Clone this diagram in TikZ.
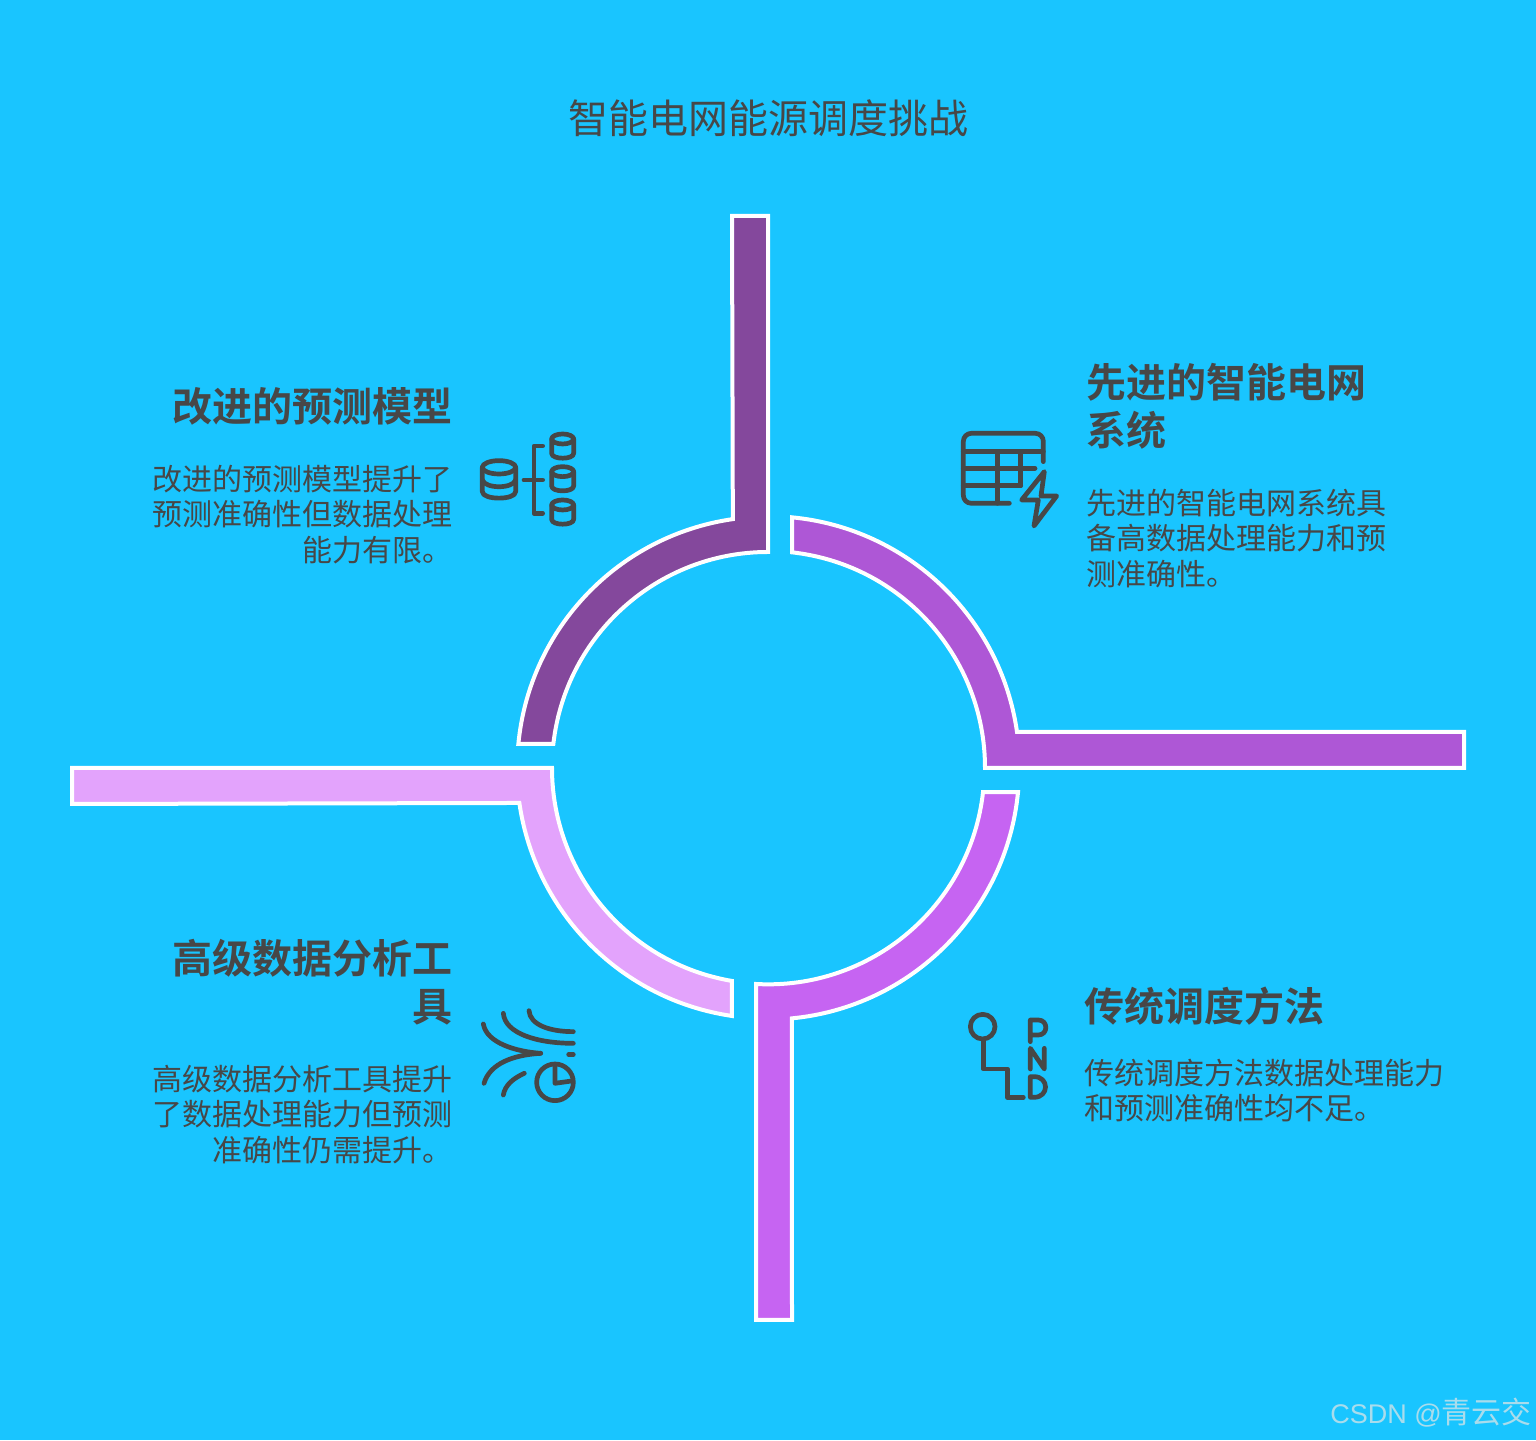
\documentclass[tikz,border=0pt]{standalone}
\usepackage{fontspec}
\setmainfont{Noto Sans CJK SC}[BoldFont={Noto Sans CJK SC Bold}]
\newfontfamily\latinwm{Liberation Sans}
\definecolor{bgblue}{HTML}{19C5FF}
\definecolor{inkgray}{HTML}{474747}
\definecolor{segA}{HTML}{84489C}
\definecolor{segB}{HTML}{AE57D6}
\definecolor{segC}{HTML}{C664F2}
\definecolor{segD}{HTML}{E3A3FC}
\definecolor{wmgray}{HTML}{A9DCEC}
\newcommand{\cylinder}[5]{% cx, cy top-centre, rx, ry, height
  \draw[iconline] (#1,#2) ellipse[x radius=#3,y radius=#4];
  \draw[iconline] (#1-#3,#2) -- (#1-#3,#2+#5) .. controls (#1-#3,#2+#5+#4*1.3) and (#1+#3,#2+#5+#4*1.3) .. (#1+#3,#2+#5) -- (#1+#3,#2);
}
\tikzset{
  seg/.style={draw=white,line width=4pt,line join=miter},
  title/.style={text=inkgray,font=\fontsize{40}{48}\selectfont,inner sep=0pt},
  headl/.style={text=inkgray,font=\fontsize{40}{48}\selectfont\bfseries,inner sep=0pt,align=left,anchor=west},
  headr/.style={text=inkgray,font=\fontsize{40}{48}\selectfont\bfseries,inner sep=0pt,align=right,anchor=east},
  bodyl/.style={text=inkgray,font=\fontsize{30}{35.7}\selectfont,inner sep=0pt,align=left,anchor=west},
  bodyr/.style={text=inkgray,font=\fontsize{30}{35.7}\selectfont,inner sep=0pt,align=right,anchor=east},
  iconline/.style={draw=inkgray,line width=4.7pt,line cap=round,line join=round},
  iconbox/.style={x=0.3333pt,y=-0.3333pt},
}
\begin{document}
\begin{tikzpicture}[x=1pt,y=1pt]
\useasboundingbox (0,0) rectangle (1536,1440);
\fill[bgblue] (0,0) rectangle (1536,1440);
\coordinate (ctr) at (768,672);

% top-left segment
\draw[seg,fill=segA] (732,1224) -- (768,1224) -- (768,888)
  arc[start angle=90,end angle=173.6,radius=216pt] -- ++(-35,0)
  arc[start angle=174.5,end angle=98.2,radius=251.5pt] -- cycle;
% right segment
\draw[seg,fill=segB] (1464,708) -- (1464,672) -- (985,672)
  arc[start angle=0,end angle=83.6,radius=217pt] -- ++(0,35)
  arc[start angle=84.5,end angle=8.2,radius=251.5pt] -- cycle;
% bottom segment
\draw[seg,fill=segC] (792,120) -- (756,120) -- (756,456)
  arc[start angle=-93.2,end angle=-6.4,radius=216.3pt] -- ++(35,0)
  arc[start angle=-5.5,end angle=-84.5,radius=251.5pt] -- cycle;
% left segment
\draw[seg,fill=segD] (72,636) -- (72,672) -- (552,672)
  arc[start angle=180,end angle=260.4,radius=216pt] -- ++(0,-35)
  arc[start angle=261.7,end angle=188.2,radius=251.5pt] -- cycle;

\node[title] (ttl) at (768.5,1322) {智能电网能源调度挑战};

\node[headr] (h1) at (453,1034) {改进的预测模型};
\node[bodyr] (b1) at (453,925.5) {改进的预测模型提升了\\预测准确性但数据处理\\能力有限。};
\node[headl] (h2) at (1086,1034) {先进的智能电网\\系统};
\node[bodyl] (b2) at (1086,901.5) {先进的智能电网系统具\\备高数据处理能力和预\\测准确性。};
\node[headr] (h3) at (453,458) {高级数据分析工\\具};
\node[bodyr] (b3) at (453,325.5) {高级数据分析工具提升\\了数据处理能力但预测\\准确性仍需提升。};
\node[headl] (h4) at (1084,434) {传统调度方法};
\node[bodyl] (b4) at (1084,349.5) {传统调度方法数据处理能力\\和预测准确性均不足。};

% icon: databases
\begin{scope}[shift={(470,1020)},iconbox]
  \cylinder{87}{142}{50}{20}{73}
  \draw[iconline] (37,180) .. controls (45,207) and (129,207) .. (137,180);
  \cylinder{278}{57}{33}{15}{43}
  \cylinder{278}{155}{33}{15}{43}
  \cylinder{278}{255}{33}{15}{43}
  \draw[iconline] (218,78) -- (192,78) -- (192,280) -- (218,280);
  \draw[iconline] (162,180) -- (218,180);
\end{scope}

% icon: table with bolt
\begin{scope}[shift={(950,1020)},iconbox]
  \draw[iconline,rounded corners=8pt] (280,125) -- (280,40) -- (40,40) -- (40,250) -- (178,250);
  \draw[iconline] (40,95) -- (280,95);
  \draw[iconline] (40,145) -- (255,145);
  \draw[iconline] (40,197) -- (212,197);
  \draw[iconline] (142,95) -- (142,250);
  \draw[iconline] (212,95) -- (212,197);
  \draw[iconline] (283,155) -- (215,240) -- (265,240) -- (252,318) -- (320,228) -- (273,228) -- cycle;
\end{scope}

% icon: streams and pie
\begin{scope}[shift={(470,440)},iconbox]
  \draw[iconline] (40,72) .. controls (50,130) and (140,155) .. (212,160);
  \draw[iconline] (42,250) .. controls (60,190) and (130,165) .. (212,160);
  \draw[iconline] (100,40) .. controls (105,100) and (200,130) .. (310,130);
  \draw[iconline] (177,32) .. controls (180,75) and (240,95) .. (310,95);
  \draw[iconline] (100,285) .. controls (105,255) and (130,235) .. (163,220);
  \draw[iconline] (296,164) -- (310,164);
  \draw[iconline] (255,247) circle[radius=55];
  \draw[iconline] (255,195) -- (255,250) -- (305,243);
\end{scope}

% icon: gear selector
\begin{scope}[shift={(950,440)},iconbox]
  \draw[iconline] (98,80) circle[radius=37];
  \draw[iconline] (100,118) -- (100,207) -- (172,207) -- (172,292) -- (220,292);
  \draw[iconline] (241,125) -- (241,60) -- (265,60) .. controls (295,60) and (295,105) .. (265,105) -- (241,105);
  \draw[iconline] (241,207) -- (241,145) -- (283,207) -- (283,145);
  \draw[iconline] (241,230) -- (241,292) -- (252,292) .. controls (298,292) and (298,230) .. (252,230) -- cycle;
\end{scope}

\node[anchor=east,inner sep=0pt,text=wmgray,font=\fontsize{30}{36}\selectfont] (wm) at (1532,27) {{\latinwm\fontsize{27}{33}\selectfont CSDN @}青云交};
\end{tikzpicture}
\end{document}
